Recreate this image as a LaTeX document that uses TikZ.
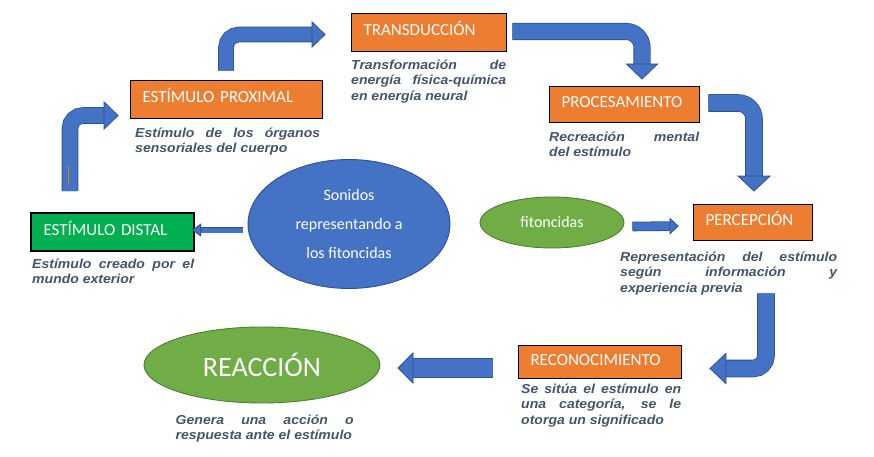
\documentclass[tikz,border=0pt]{standalone}
\usepackage{fontspec}
\usetikzlibrary{shapes.geometric,arrows.meta}
\newfontfamily\boxfont{Carlito}
\newfontfamily\descfont[FakeStretch=1.08]{Liberation Sans}
\definecolor{boxorange}{HTML}{ED7D31}
\definecolor{distalgreen}{HTML}{00B050}
\definecolor{leafgreen}{HTML}{70AD47}
\definecolor{leafedge}{HTML}{507E32}
\definecolor{arrowblue}{HTML}{4472C4}
\definecolor{arrowedge}{HTML}{2F528F}
\definecolor{desctext}{HTML}{44546A}
\definecolor{stray}{HTML}{C9862B}
\begin{document}
\begin{tikzpicture}[x=1pt, y=-1pt,
    stage/.style={draw=black, line width=0.8pt, fill=boxorange, text=white,
        font=\boxfont\fontsize{17}{20}\selectfont, inner xsep=12.5pt, inner ysep=0pt,
        align=left, text height=11pt, text depth=3.5pt},
    desc/.style={anchor=north west, inner sep=0pt, text=desctext, align=justify,
        font=\descfont\bfseries\itshape\fontsize{13}{15.5}\selectfont,
        execute at begin node={\tolerance=10000\hbadness=10000\strut}},
    blob/.style={ellipse, inner sep=0pt, text=white, line width=0.9pt, align=center},
    blockarrow/.style n args={3}{draw=arrowblue, line width=#1pt, line cap=butt,
        -{Triangle[width=#2pt, length=#3pt, fill=arrowblue, color=arrowedge, line width=0.8pt]},
        preaction={draw=arrowedge, line width=#1pt+1.6pt, shorten >=#3pt-1pt, arrows=-}}]
    \useasboundingbox (0,0) rectangle (874,457);

    % Stages
    \node[stage, text width=130pt, minimum height=38pt] (transd) at (428.5,32) {TRANSDUCCIÓN};
    \node[stage, text width=167pt, minimum height=38pt] (proximal) at (226,99) {ESTÍMULO PROXIMAL};
    \node[stage, text width=125pt, minimum height=36pt] (proces) at (624,104) {PROCESAMIENTO};
    \node[stage, text width=94pt, minimum height=36pt] (percep) at (752.5,222) {PERCEPCIÓN};
    \node[stage, text width=138pt, minimum height=33pt] (recon) at (599.5,362) {RECONOCIMIENTO};
    \node[stage, fill=distalgreen, line width=2pt, text width=138pt, minimum height=38pt] (distal) at (112.5,232) {ESTÍMULO DISTAL};

    % Ellipses
    \node[blob, fill=arrowblue, draw=arrowedge, minimum width=202pt, minimum height=129pt,
        font=\boxfont\fontsize{16}{29}\selectfont] (sonidos) at (349,224) {Sonidos\\representando a\\los fitoncidas};
    \node[blob, fill=leafgreen, draw=leafedge, minimum width=144pt, minimum height=51pt,
        font=\boxfont\fontsize{16}{19}\selectfont] (fitoncidas) at (552,222.5) {fitoncidas};
    \node[blob, fill=leafgreen, draw=leafedge, minimum width=236pt, minimum height=76pt,
        font=\boxfont\fontsize{28}{32}\selectfont] (reaccion) at (262,365) {REACCIÓN};

    % Descriptions
    \node[desc, text width=155pt] (transdtext) at (351,58) {Transformación de\linebreak energía física-química\linebreak en energía neural};
    \node[desc, text width=185pt] (proximaltext) at (135,126) {Estímulo de los órganos\linebreak sensoriales del cuerpo};
    \node[desc, text width=150pt] (procestext) at (549,130) {Recreación mental\linebreak del estímulo};
    \node[desc, text width=217pt] (perceptext) at (620,250) {Representación del estímulo\linebreak según información y\linebreak experiencia previa};
    \node[desc, text width=160pt] (recontext) at (521,382) {Se sitúa el estímulo en\linebreak una categoría, se le\linebreak otorga un significado};
    \node[desc, text width=162pt] (distaltext) at (32,257) {Estímulo creado por el\linebreak mundo exterior};
    \node[desc, text width=178pt] (reacciontext) at (175.5,413) {Genera una acción o\linebreak respuesta ante el estímulo};

    % Arrows
    \draw[blockarrow={15}{29}{15}, rounded corners=13pt]
        ([xshift=-42.5pt,yshift=21pt]distal.north) |- ([xshift=-11pt,yshift=-16.5pt]proximal.west);
    \draw[stray, line width=0.8pt] (68,166) -- (68,185);
    \draw[blockarrow={14}{27}{14}, rounded corners=13pt]
        ([yshift=9pt]proximal.north) |- ([xshift=-25pt,yshift=-2.5pt]transd.west);
    \draw[blockarrow={15.5}{33}{16}, rounded corners=16pt]
        ([xshift=6pt,yshift=0.5pt]transd.east) -| ([xshift=18pt,yshift=6pt]proces.north);
    \draw[blockarrow={16}{34}{16}, rounded corners=16pt]
        ([xshift=9pt,yshift=1pt]proces.east) -| ([xshift=1.5pt,yshift=12pt]percep.north);
    \draw[blockarrow={5}{13}{9}]
        ([xshift=-5pt,yshift=-6pt]sonidos.west) -- ([xshift=-3pt,yshift=2pt]distal.east);
    \draw[blockarrow={8}{17}{9}]
        ([xshift=8pt,yshift=-4pt]fitoncidas.east) -- ([xshift=-14pt,yshift=-4pt]percep.west);
    \draw[blockarrow={16}{32}{17}, rounded corners=13pt]
        ([xshift=13.5pt,yshift=-53pt]percep.south) |- ([xshift=28pt,yshift=-6.5pt]recon.east);
    \draw[blockarrow={18}{32}{16}]
        ([xshift=-25pt,yshift=-6pt]recon.west) -- ([xshift=17pt,yshift=-3pt]reaccion.east);
\end{tikzpicture}
\end{document}
